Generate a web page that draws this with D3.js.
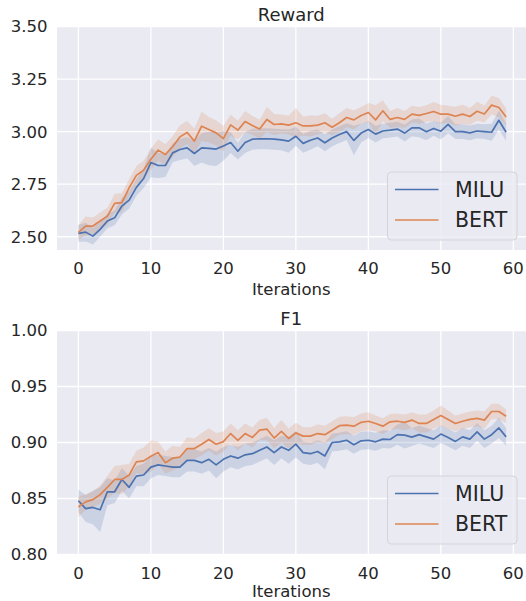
<!DOCTYPE html>
<html>
<head>
<meta charset="utf-8">
<script src="https://cdn.jsdelivr.net/npm/d3@7"></script>
<style>
  body { margin: 0; background: #fff; }
  svg { display: block; font-family: 'DejaVu Sans', sans-serif; }
  .ticklabel, .title, .xlabel { fill: #262626; }
</style>
</head>
<body>
<div id="chart"></div>
<script>
'use strict'

const iterations = d3.range(60)
const seriesNames = ['MILU', 'BERT']
const seriesColors = ['#4C72B0', '#DD8452']

const rewardTicks = [2.50, 2.75, 3.00, 3.25, 3.50]
const f1Ticks = [0.80, 0.85, 0.90, 0.95, 1.00]
const xTicks = [0, 10, 20, 30, 40, 50, 60]

// mean reward per iteration
const miluReward = [2.516, 2.522, 2.503, 2.535, 2.575, 2.590, 2.646, 2.674, 2.735, 2.777,
  2.853, 2.839, 2.839, 2.899, 2.915, 2.923, 2.896, 2.923, 2.920, 2.917,
  2.932, 2.948, 2.907, 2.948, 2.964, 2.966, 2.966, 2.964, 2.961, 2.955,
  2.978, 2.944, 2.959, 2.970, 2.947, 2.970, 2.986, 3.000, 2.958, 2.993,
  3.010, 2.988, 3.003, 3.007, 3.012, 2.993, 3.018, 3.018, 2.999, 3.015,
  3.002, 3.034, 3.000, 3.000, 2.994, 3.003, 3.000, 2.997, 3.054, 2.997]
const bertReward = [2.521, 2.551, 2.551, 2.575, 2.598, 2.659, 2.662, 2.733, 2.792, 2.817,
  2.869, 2.912, 2.891, 2.928, 2.975, 2.996, 2.955, 3.026, 3.010, 2.994,
  2.967, 3.032, 3.007, 3.048, 3.029, 3.012, 3.058, 3.034, 3.037, 3.031,
  3.042, 3.027, 3.027, 3.031, 3.042, 3.021, 3.042, 3.067, 3.056, 3.077,
  3.091, 3.056, 3.099, 3.058, 3.067, 3.058, 3.083, 3.077, 3.086, 3.096,
  3.083, 3.083, 3.073, 3.083, 3.072, 3.097, 3.084, 3.126, 3.115, 3.070]
// confidence band half width
const miluRewardErr = [0.04, 0.045, 0.04, 0.035, 0.035, 0.035, 0.04, 0.04, 0.04, 0.045,
  0.07, 0.06, 0.055, 0.045, 0.05, 0.05, 0.06, 0.07, 0.08, 0.08,
  0.07, 0.05, 0.04, 0.05, 0.05, 0.05, 0.05, 0.05, 0.05, 0.055,
  0.045, 0.045, 0.045, 0.04, 0.04, 0.04, 0.04, 0.04, 0.07, 0.045,
  0.04, 0.04, 0.035, 0.035, 0.035, 0.04, 0.04, 0.045, 0.04, 0.035,
  0.04, 0.04, 0.035, 0.035, 0.035, 0.035, 0.035, 0.04, 0.045, 0.04]
const bertRewardErr = [0.035, 0.045, 0.04, 0.04, 0.04, 0.045, 0.045, 0.04, 0.045, 0.045,
  0.05, 0.05, 0.05, 0.05, 0.055, 0.055, 0.06, 0.07, 0.06, 0.06,
  0.06, 0.05, 0.045, 0.05, 0.045, 0.045, 0.06, 0.05, 0.045, 0.045,
  0.07, 0.045, 0.05, 0.045, 0.045, 0.04, 0.045, 0.045, 0.045, 0.04,
  0.045, 0.07, 0.05, 0.04, 0.045, 0.04, 0.04, 0.04, 0.04, 0.045,
  0.045, 0.04, 0.045, 0.045, 0.04, 0.045, 0.04, 0.045, 0.045, 0.04]

// mean F1 per iteration
const miluF1 = [0.848, 0.841, 0.842, 0.840, 0.856, 0.856, 0.867, 0.860, 0.870, 0.871,
  0.878, 0.880, 0.879, 0.878, 0.878, 0.884, 0.884, 0.882, 0.885, 0.880,
  0.885, 0.888, 0.886, 0.889, 0.890, 0.893, 0.896, 0.891, 0.896, 0.893,
  0.8985, 0.891, 0.890, 0.892, 0.888, 0.900, 0.9006, 0.902, 0.898, 0.9015,
  0.902, 0.9006, 0.903, 0.9027, 0.907, 0.9066, 0.9048, 0.907, 0.905, 0.903,
  0.9075, 0.9045, 0.901, 0.905, 0.903, 0.9095, 0.903, 0.907, 0.913, 0.905]
const bertF1 = [0.8425, 0.847, 0.849, 0.8535, 0.860, 0.867, 0.867, 0.871, 0.8827, 0.8836,
  0.8878, 0.891, 0.882, 0.886, 0.887, 0.8946, 0.8946, 0.8985, 0.9027, 0.8985,
  0.9008, 0.908, 0.902, 0.908, 0.9045, 0.911, 0.912, 0.904, 0.910, 0.9036,
  0.9086, 0.9057, 0.9057, 0.908, 0.907, 0.911, 0.915, 0.9155, 0.9146, 0.918,
  0.919, 0.917, 0.9146, 0.9185, 0.919, 0.918, 0.920, 0.917, 0.917, 0.9206,
  0.924, 0.9206, 0.917, 0.919, 0.9206, 0.9215, 0.920, 0.9277, 0.9277, 0.9235]
const miluF1Err = [0.01, 0.012, 0.015, 0.02, 0.012, 0.01, 0.01, 0.01, 0.009, 0.01,
  0.01, 0.009, 0.009, 0.009, 0.009, 0.01, 0.01, 0.01, 0.01, 0.012,
  0.011, 0.01, 0.01, 0.01, 0.01, 0.01, 0.01, 0.011, 0.01, 0.012,
  0.012, 0.01, 0.01, 0.01, 0.012, 0.008, 0.008, 0.008, 0.008, 0.008,
  0.008, 0.008, 0.008, 0.008, 0.009, 0.012, 0.008, 0.008, 0.008, 0.008,
  0.008, 0.008, 0.008, 0.008, 0.008, 0.008, 0.008, 0.008, 0.009, 0.008]
const bertF1Err = [0.009, 0.007, 0.007, 0.008, 0.01, 0.012, 0.013, 0.01, 0.01, 0.012,
  0.014, 0.01, 0.01, 0.011, 0.009, 0.01, 0.009, 0.01, 0.01, 0.01,
  0.009, 0.009, 0.009, 0.009, 0.009, 0.009, 0.01, 0.009, 0.01, 0.009,
  0.009, 0.008, 0.008, 0.008, 0.008, 0.008, 0.008, 0.008, 0.008, 0.008,
  0.008, 0.007, 0.007, 0.007, 0.007, 0.007, 0.007, 0.008, 0.008, 0.008,
  0.009, 0.008, 0.007, 0.007, 0.007, 0.007, 0.008, 0.007, 0.007, 0.006]

const width = 526
const height = 601

const svg = d3.select('#chart')
  .append('svg')
  .attr('width', width)
  .attr('height', height)

function drawPanel (opts) {
  const { id, title, top, bottom, yDomain, yTicks, means, errs, legendTop, labelGap } = opts
  const left = 57
  const right = 527.5

  const x = d3.scaleLinear().domain([-2.95, 61.95]).range([left, right])
  const y = d3.scaleLinear().domain(yDomain).range([bottom, top])

  const g = svg.append('g').attr('class', 'panel')

  g.append('clipPath')
    .attr('id', `clip-${id}`)
    .append('rect')
    .attr('x', left)
    .attr('y', top)
    .attr('width', right - left)
    .attr('height', bottom - top)

  // background
  g.append('rect')
    .attr('x', left)
    .attr('y', top)
    .attr('width', right - left)
    .attr('height', bottom - top)
    .attr('fill', '#EAEAF2')

  // grid
  g.append('g')
    .selectAll('line')
    .data(xTicks)
    .enter()
    .append('line')
    .attr('x1', d => x(d))
    .attr('x2', d => x(d))
    .attr('y1', top)
    .attr('y2', bottom)
    .attr('stroke', '#fff')
    .attr('stroke-width', 1.3)
  g.append('g')
    .selectAll('line')
    .data(yTicks)
    .enter()
    .append('line')
    .attr('x1', left)
    .attr('x2', right)
    .attr('y1', d => y(d))
    .attr('y2', d => y(d))
    .attr('stroke', '#fff')
    .attr('stroke-width', 1.3)

  // tick labels
  g.append('g')
    .selectAll('text')
    .data(yTicks)
    .enter()
    .append('text')
    .attr('class', 'ticklabel')
    .attr('x', 47.5)
    .attr('y', d => y(d))
    .attr('dy', '0.36em')
    .attr('text-anchor', 'end')
    .style('font-size', '16.5px')
    .text(d => d.toFixed(2))
  g.append('g')
    .selectAll('text')
    .data(xTicks)
    .enter()
    .append('text')
    .attr('class', 'ticklabel')
    .attr('x', d => x(d))
    .attr('y', bottom + 24)
    .attr('text-anchor', 'middle')
    .style('font-size', '16.5px')
    .text(d => d)

  g.append('text')
    .attr('class', 'xlabel')
    .attr('x', (left + right) / 2 - 1)
    .attr('y', bottom + labelGap)
    .attr('text-anchor', 'middle')
    .style('font-size', '16.5px')
    .text('Iterations')

  g.append('text')
    .attr('class', 'title')
    .attr('x', (left + right) / 2 - 1)
    .attr('y', top - 6)
    .attr('text-anchor', 'middle')
    .style('font-size', '18px')
    .text(title)

  // bands and lines
  const plot = g.append('g').attr('clip-path', `url(#clip-${id})`)
  const area = d3.area()
    .x(d => x(d.i))
    .y0(d => y(d.m - d.e))
    .y1(d => y(d.m + d.e))
  const line = d3.line()
    .x(d => x(d.i))
    .y(d => y(d.m))

  seriesNames.forEach((name, k) => {
    const rows = iterations.map(i => ({ i, m: means[k][i], e: errs[k][i] }))
    plot.append('path')
      .datum(rows)
      .attr('d', area)
      .attr('fill', seriesColors[k])
      .attr('fill-opacity', 0.2)
      .attr('stroke', 'none')
  })
  seriesNames.forEach((name, k) => {
    const rows = iterations.map(i => ({ i, m: means[k][i], e: errs[k][i] }))
    plot.append('path')
      .datum(rows)
      .attr('d', line)
      .attr('fill', 'none')
      .attr('stroke', seriesColors[k])
      .attr('stroke-width', 1.7)
      .attr('stroke-linejoin', 'round')
  })

  // legend
  const lg = g.append('g').attr('class', 'legend')
  lg.append('rect')
    .attr('x', 387.5)
    .attr('y', legendTop)
    .attr('width', 129.5)
    .attr('height', 68)
    .attr('rx', 4)
    .attr('fill', '#EAEAF2')
    .attr('fill-opacity', 0.8)
    .attr('stroke', '#d4d4d8')
    .attr('stroke-width', 1)
  seriesNames.forEach((name, k) => {
    const ly = legendTop + 17.5 + k * 30.5
    lg.append('line')
      .attr('x1', 395)
      .attr('x2', 438.5)
      .attr('y1', ly)
      .attr('y2', ly)
      .attr('stroke', seriesColors[k])
      .attr('stroke-width', 1.7)
    lg.append('text')
      .attr('x', 455)
      .attr('y', ly)
      .attr('dy', '0.36em')
      .style('font-size', '20.5px')
      .attr('fill', '#262626')
      .text(name)
  })
}

drawPanel({
  id: 'reward',
  title: 'Reward',
  top: 26.5,
  bottom: 250,
  yDomain: [2.437, 3.5],
  yTicks: rewardTicks,
  means: [miluReward, bertReward],
  errs: [miluRewardErr, bertRewardErr],
  legendTop: 172,
  labelGap: 44.5
})

drawPanel({
  id: 'f1',
  title: 'F1',
  top: 330.5,
  bottom: 554.5,
  yDomain: [0.80, 1.00],
  yTicks: f1Ticks,
  means: [miluF1, bertF1],
  errs: [miluF1Err, bertF1Err],
  legendTop: 476,
  labelGap: 42
})
</script>
</body>
</html>
